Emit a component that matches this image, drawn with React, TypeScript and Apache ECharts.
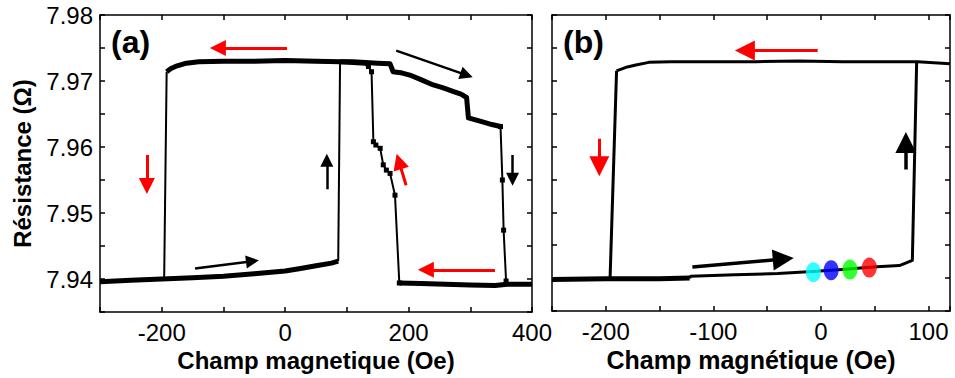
import React, { useEffect, useRef } from "react";
import * as echarts from "echarts";

// ---------- Panel (a) data ----------
const aLowLeft: [number, number][] = [
  [-300, 7.9396], [-250, 7.9398], [-200, 7.94], [-150, 7.9402], [-100, 7.9404],
  [-50, 7.9408], [0, 7.9412], [25, 7.9416], [50, 7.942], [75, 7.9424], [86, 7.9427],
];
const aJumpUp: [number, number][] = [[86, 7.9427], [89, 7.9729]];
const aTopRight: [number, number][] = [
  [89, 7.9729], [110, 7.9729], [130, 7.9728], [150, 7.9727], [170, 7.9726],
  [175, 7.9714], [190, 7.9712], [202, 7.9709], [220, 7.9702], [240, 7.9694],
  [255, 7.969], [273, 7.9684], [285, 7.968], [294, 7.9675], [297, 7.9644],
  [320, 7.9638], [335, 7.9634], [349, 7.9631],
];
const aDropRight: [number, number][] = [
  [349, 7.9631], [352, 7.955], [354, 7.9474], [358, 7.9397],
];
const aBottomRight: [number, number][] = [
  [185, 7.9394], [220, 7.9393], [260, 7.9392], [300, 7.9391], [340, 7.939],
  [360, 7.9392], [400, 7.9392],
];
const aRiseSteps: [number, number][] = [
  [185, 7.9394], [178, 7.9527], [170, 7.956], [164, 7.9565], [159, 7.9573],
  [154, 7.9598], [147, 7.9603], [143, 7.9608], [140, 7.9714], [135, 7.9722],
];
const aTopLeft: [number, number][] = [
  [-192, 7.9714], [-185, 7.9719], [-175, 7.9723], [-160, 7.9727], [-140, 7.9729],
  [-100, 7.973], [-50, 7.973], [0, 7.9731], [50, 7.973], [90, 7.9729],
  [130, 7.9727], [135, 7.9724],
];
const aDropLeft: [number, number][] = [[-192, 7.9714], [-196, 7.9402]];

// arrows: [tail, head]
const aArrowsRed: [number, number][][] = [
  [[3, 7.975], [-109, 7.975]],
  [[-224, 7.9588], [-224, 7.9541]],
  [[196, 7.9542], [184.4, 7.9578]],
  [[340, 7.9414], [228, 7.9414]],
];
const aArrowsBlack: [number, number][][] = [
  [[-146, 7.9416], [-53, 7.9427]],
  [[67.5, 7.9536], [67.5, 7.958]],
  [[180, 7.9746], [294, 7.9709]],
  [[368.5, 7.9588], [368.5, 7.9551]],
];

// ---------- Panel (b) data ----------
const bTop: [number, number][] = [
  [-190, 7.9715], [-180, 7.9721], [-172, 7.9724], [-160, 7.9728], [-140, 7.9729],
  [-100, 7.9729], [-60, 7.9729], [-20, 7.973], [20, 7.9729], [60, 7.9729],
  [90, 7.9729], [120, 7.9726],
];
const bDropLeft: [number, number][] = [[-190, 7.9715], [-196, 7.94]];
const bBottomThick: [number, number][] = [
  [-250, 7.9398], [-200, 7.9399], [-150, 7.9399], [-122, 7.94],
];
const bBottom: [number, number][] = [
  [-122, 7.94], [-121, 7.9403], [-80, 7.9405], [-40, 7.9407], [-8, 7.941],
  [20, 7.9413], [48, 7.9417], [73, 7.9419], [85, 7.9427], [89, 7.9729],
];
const bDots: { value: [number, number]; color: string }[] = [
  { value: [-7, 7.9409], color: "#00ffff" },
  { value: [9.5, 7.9412], color: "#0000ff" },
  { value: [27, 7.9413], color: "#00ff00" },
  { value: [45, 7.9416], color: "#ff0000" },
];
const bArrowsRed: [number, number][][] = [
  [[-3, 7.9746], [-70.7, 7.9746]],
  [[-206, 7.9612], [-206, 7.957]],
];
const bArrowsBlack: [number, number][][] = [
  [[79, 7.9565], [79, 7.9606]],
  [[-119.5, 7.9417], [-35, 7.9429]],
];

// ---------- Axis ticks ----------
const aXRange = { min: -300, max: 400, interval: 100, labelEvery: 200 };
const bXRange = { min: -250, max: 120, interval: 50, labelEvery: 100 };
const yRange = { min: 7.935, max: 7.98, interval: 0.005 };

const FONT = "Liberation Sans, Arial, sans-serif";

function App() {
  const ref = useRef<HTMLDivElement>(null);
  useEffect(() => {
    if (!ref.current) return;
    const chart = echarts.init(ref.current, undefined, { renderer: "svg" });

    const axisLine = { show: true, onZero: false, lineStyle: { color: "#000", width: 1.5 } };
    const axisTick = { show: true, inside: true, length: 5, lineStyle: { color: "#000", width: 1.5 } };

    const xAxis = (grid: number, r: typeof aXRange, pos: "bottom" | "top", name?: string, nameSize = 24) => ({
      type: "value",
      gridIndex: grid,
      position: pos,
      min: r.min,
      max: r.max,
      interval: r.interval,
      axisLine,
      axisTick,
      splitLine: { show: false },
      axisLabel: {
        show: pos === "bottom",
        margin: 8,
        color: "#000",
        fontSize: 24,
        fontFamily: FONT,
        formatter: (v: number) => (Math.abs(Math.round(v) % r.labelEvery) === 0 ? String(Math.round(v)) : ""),
      },
      name: name,
      nameLocation: "middle",
      nameGap: 30,
      nameTextStyle: { color: "#000", fontSize: nameSize, fontWeight: "bold", fontFamily: FONT },
    });

    const yAxis = (grid: number, pos: "left" | "right", labels: boolean, name?: string) => ({
      type: "value",
      gridIndex: grid,
      position: pos,
      min: yRange.min,
      max: yRange.max,
      interval: yRange.interval,
      axisLine,
      axisTick,
      splitLine: { show: false },
      axisLabel: {
        show: labels,
        margin: 7,
        color: "#000",
        fontSize: 24,
        fontFamily: FONT,
        formatter: (v: number) => (Math.round(v * 1000) % 10 === 0 ? v.toFixed(2) : ""),
      },
      name: name,
      nameLocation: "middle",
      nameGap: 66,
      nameTextStyle: { color: "#000", fontSize: 24, fontWeight: "bold", fontFamily: FONT },
    });

    const lineS = (data: [number, number][], grid: number, width: number, symbols = false) => ({
      type: "line",
      xAxisIndex: grid * 2,
      yAxisIndex: grid * 2,
      data,
      showSymbol: symbols,
      symbol: "rect",
      symbolSize: 5,
      itemStyle: { color: "#000" },
      lineStyle: { color: "#000", width, join: "round" },
      z: 3,
    });

    const arrowS = (arr: [number, number][][], grid: number, color: string, width: number, size: number[]) => ({
      type: "lines",
      coordinateSystem: "cartesian2d",
      xAxisIndex: grid * 2,
      yAxisIndex: grid * 2,
      symbol: ["none", "triangle"],
      symbolSize: size,
      lineStyle: { color, width, opacity: 1 },
      data: arr.map((c) => ({ coords: c })),
      z: 4,
    });

    chart.setOption({
      animation: false,
      textStyle: { fontFamily: FONT },
      grid: [
        { left: 100, top: 15, width: 432, height: 297 },
        { left: 552, top: 15, width: 398, height: 296 },
      ],
      xAxis: [
        xAxis(0, aXRange, "bottom", "Champ magnetique (Oe)", 24),
        xAxis(0, aXRange, "top"),
        xAxis(1, bXRange, "bottom", "Champ magnétique (Oe)", 25),
        xAxis(1, bXRange, "top"),
      ],
      yAxis: [
        yAxis(0, "left", true, "Résistance (Ω)"),
        yAxis(0, "right", false),
        yAxis(1, "left", false),
        yAxis(1, "right", false),
      ],
      graphic: [
        { type: "text", left: 111, top: 26, style: { text: "(a)", font: `bold 32px ${FONT}`, fill: "#000" } },
        { type: "text", left: 563, top: 26, style: { text: "(b)", font: `bold 32px ${FONT}`, fill: "#000" } },
      ],
      series: [
        lineS(aLowLeft, 0, 5),
        lineS(aJumpUp, 0, 2),
        lineS(aTopRight, 0, 5),
        lineS(aDropRight, 0, 2, true),
        lineS(aBottomRight, 0, 5),
        lineS(aRiseSteps, 0, 2, true),
        lineS(aTopLeft, 0, 5),
        lineS(aDropLeft, 0, 2),
        arrowS(aArrowsRed, 0, "#ff0000", 3, [11, 16]),
        arrowS(aArrowsBlack, 0, "#000000", 2.5, [8, 13]),
        lineS(bTop, 1, 3),
        lineS(bDropLeft, 1, 3),
        lineS(bBottomThick, 1, 5),
        lineS(bBottom, 1, 3),
        {
          type: "scatter",
          xAxisIndex: 2,
          yAxisIndex: 2,
          symbol: "circle",
          symbolSize: [15, 20],
          data: bDots.map((d) => ({ value: d.value, itemStyle: { color: d.color } })),
          z: 5,
        },
        arrowS(bArrowsRed, 1, "#ff0000", 3, [12, 20]),
        arrowS(bArrowsBlack, 1, "#000000", 3.5, [12, 21]),
      ],
    });
    return () => chart.dispose();
  }, []);
  return (
    <div
      ref={ref}
      style={{ position: "fixed", left: 0, top: 0, width: 955, height: 378, background: "#fff" }}
    />
  );
}

export default App;
